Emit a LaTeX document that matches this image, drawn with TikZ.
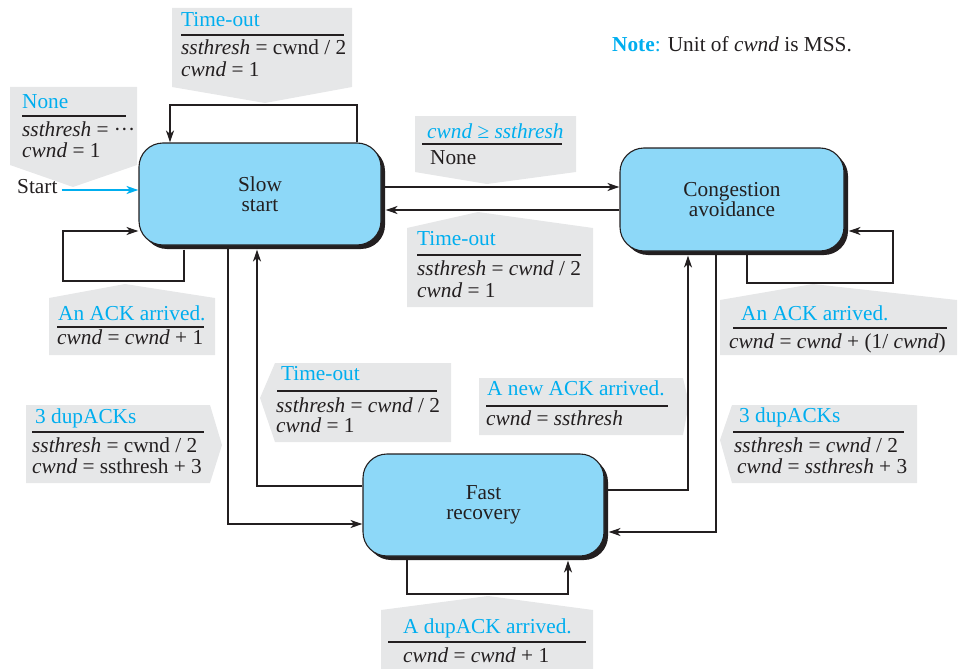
\documentclass[tikz,border=0pt]{standalone}
\usepackage{fontspec}
\setmainfont{Liberation Serif}
\usetikzlibrary{arrows.meta,shadows}
\definecolor{cyanT}{HTML}{00AEEF}
\definecolor{boxF}{HTML}{8DD8F8}
\definecolor{callG}{HTML}{E6E7E8}
\definecolor{ink}{HTML}{231F20}
\pgfdeclarelayer{bg}
\pgfdeclarelayer{conn}
\pgfsetlayers{bg,conn,main}
\begin{document}
\begin{tikzpicture}[x=1pt,y=-1pt,
  state/.style={draw=ink, line width=1.1pt, fill=boxF, rounded corners=24pt,
    minimum width=242pt, minimum height=102pt, inner sep=0pt, align=center,
    font=\fontsize{21.3}{20.5}\selectfont, text=ink,
    drop shadow={shadow xshift=4pt, shadow yshift=-4pt, fill=ink, opacity=1}},
  link/.style={draw=ink, line width=1.25pt, -{Stealth[length=12pt,width=8pt,inset=3.5pt]}},
  co/.style={fill=callG, draw=none},
  tx/.style={anchor=base west, inner sep=0pt, text=ink, font=\fontsize{21.3}{22}\selectfont},
  tt/.style={tx, text=cyanT},
  rl/.style={draw=ink, line width=1.2pt}]
\useasboundingbox (0,0) rectangle (959,669);

% states
\node[state] (slow) at (260,194) {Slow\\start};
\node[state, minimum width=224pt, minimum height=103pt] (cong) at (732,199.5) {Congestion\\avoidance};
\node[state, minimum width=241pt] (fast) at (483.5,505) {Fast\\recovery};

% callouts
\begin{pgfonlayer}{bg}
\fill[co] (172,8) -- (352,8) -- (352,87) -- (265,103) -- (172,87) -- cycle;
\fill[co] (10,87) -- (137,87) -- (137,165) -- (73,187) -- (10,165) -- cycle;
\fill[co] (415,116) -- (576,116) -- (576,172) -- (487,184) -- (415,172) -- cycle;
\fill[co] (407,228) -- (478,212) -- (593,228) -- (593,307) -- (407,307) -- cycle;
\fill[co] (49,298) -- (125,284) -- (215,298) -- (215,355) -- (49,355) -- cycle;
\fill[co] (26,405) -- (210,405) -- (222,445) -- (210,483) -- (26,483) -- cycle;
\fill[co] (275,363) -- (451,363) -- (451,442) -- (275,442) -- (260,398) -- cycle;
\fill[co] (479,378) -- (683,378) -- (689,403) -- (683,435) -- (479,435) -- cycle;
\fill[co] (720,300) -- (813,284) -- (957,300) -- (957,355) -- (720,355) -- cycle;
\fill[co] (732,405) -- (917,405) -- (917,483) -- (732,483) -- (720,440) -- cycle;
\fill[co] (381,610) -- (488,596) -- (593,610) -- (593,669) -- (381,669) -- cycle;
\end{pgfonlayer}

% callout texts
\node[tt] (c1a) at (181,27) {Time-out};
\draw[rl] (181,35) -- (344,35);
\node[tx] (c1b) at (181,55) {\textit{ssthresh} = cwnd / 2};
\node[tx] (c1c) at (181,77) {\textit{cwnd} = 1};

\node[tt] (c2a) at (22,108) {None};
\draw[rl] (22,116) -- (126,116);
\node[tx] (c2b) at (22,136) {\textit{ssthresh} = ···};
\node[tx] (c2c) at (22,157) {\textit{cwnd} = 1};

\node[tt] (c3a) at (427,138) {\textit{cwnd} ≥ \textit{ssthresh}};
\draw[rl] (422,144) -- (562,144);
\node[tx] (c3b) at (430,164) {None};

\node[tt] (c4a) at (417,245) {Time-out};
\draw[rl] (417,255) -- (581,255);
\node[tx] (c4b) at (417,275) {\textit{ssthresh} = \textit{cwnd} / 2};
\node[tx] (c4c) at (417,297) {\textit{cwnd} = 1};

\node[tt] (c5a) at (58,320) {An ACK arrived.};
\draw[rl] (57,327) -- (204,327);
\node[tx] (c5b) at (57,344) {\textit{cwnd} = \textit{cwnd} + 1};

\node[tt] (c6a) at (35,423) {3 dupACKs};
\draw[rl] (32,432) -- (204,432);
\node[tx] (c6b) at (32,452) {\textit{ssthresh} = cwnd / 2};
\node[tx] (c6c) at (32,473) {\textit{cwnd} = ssthresh + 3};

\node[tt] (c7a) at (281,380) {Time-out};
\draw[rl] (277,391) -- (437,391);
\node[tx] (c7b) at (276,412) {\textit{ssthresh} = \textit{cwnd} / 2};
\node[tx] (c7c) at (276,432) {\textit{cwnd} = 1};

\node[tt] (c8a) at (487,395) {A new ACK arrived.};
\draw[rl] (486,406) -- (668,406);
\node[tx] (c8b) at (486,425) {\textit{cwnd} = \textit{ssthresh}};

\node[tt] (c9a) at (741,320) {An ACK arrived.};
\draw[rl] (733,328) -- (947,328);
\node[tx] (c9b) at (729,348) {\textit{cwnd} = \textit{cwnd} + (1/ \textit{cwnd})};

\node[tt] (c10a) at (739,422) {3 dupACKs};
\draw[rl] (733,432) -- (904,432);
\node[tx] (c10b) at (734,452) {\textit{ssthresh} = \textit{cwnd} / 2};
\node[tx] (c10c) at (737,473) {\textit{cwnd} = \textit{ssthresh} + 3};

\node[tt] (c11a) at (403,633) {A dupACK arrived.};
\draw[rl] (388,642) -- (586,642);
\node[tx] (c11b) at (403,662) {\textit{cwnd} = \textit{cwnd} + 1};

\node[tx] (note) at (612,52) {\textcolor{cyanT}{\textbf{Note}:} Unit of \textit{cwnd} is MSS.};

\node[tx] (start) at (17,193) {Start};

% connectors
\begin{pgfonlayer}{conn}
\draw[link] ([xshift=97pt]slow.north) -- (357,105) -- (170,105) -- ([xshift=-90pt]slow.north);
\draw[link] ([xshift=-76pt,yshift=-4pt]slow.south) -- (184,281) -- (63,281) -- (63,231) -- ([yshift=-37pt]slow.west);
\draw[link, draw=cyanT, line width=1.7pt] ([xshift=4pt,yshift=3pt]start.base east) -- ([yshift=4pt]slow.west);
\coordinate (a1) at ([yshift=7pt]slow.east);
\draw[link] (a1) -- (a1 -| cong.west);
\coordinate (a2) at ([yshift=-16pt,xshift=4pt]slow.east);
\draw[link] (a2 -| cong.west) -- (a2);
\draw[link] ([xshift=-32pt]slow.south) |- ([yshift=-19pt]fast.west);
\draw[link] ([yshift=19pt]fast.west) -| ([xshift=-3pt,yshift=-4pt]slow.south);
\draw[link] ([yshift=15pt]fast.east) -| ([xshift=-44pt,yshift=-4pt]cong.south);
\draw[link] ([xshift=-16pt]cong.south) |- ([xshift=4pt,yshift=-27pt]fast.east);
\draw[link] ([xshift=15pt]cong.south) -- (747,283) -- (893,283) -- (893,231) -- ([xshift=4pt,yshift=-31.5pt]cong.east);
\draw[link] ([xshift=-76.5pt]fast.south) -- (407,594) -- (568,594) -- ([xshift=84.5pt,yshift=-4pt]fast.south);
\end{pgfonlayer}
\end{tikzpicture}
\end{document}
